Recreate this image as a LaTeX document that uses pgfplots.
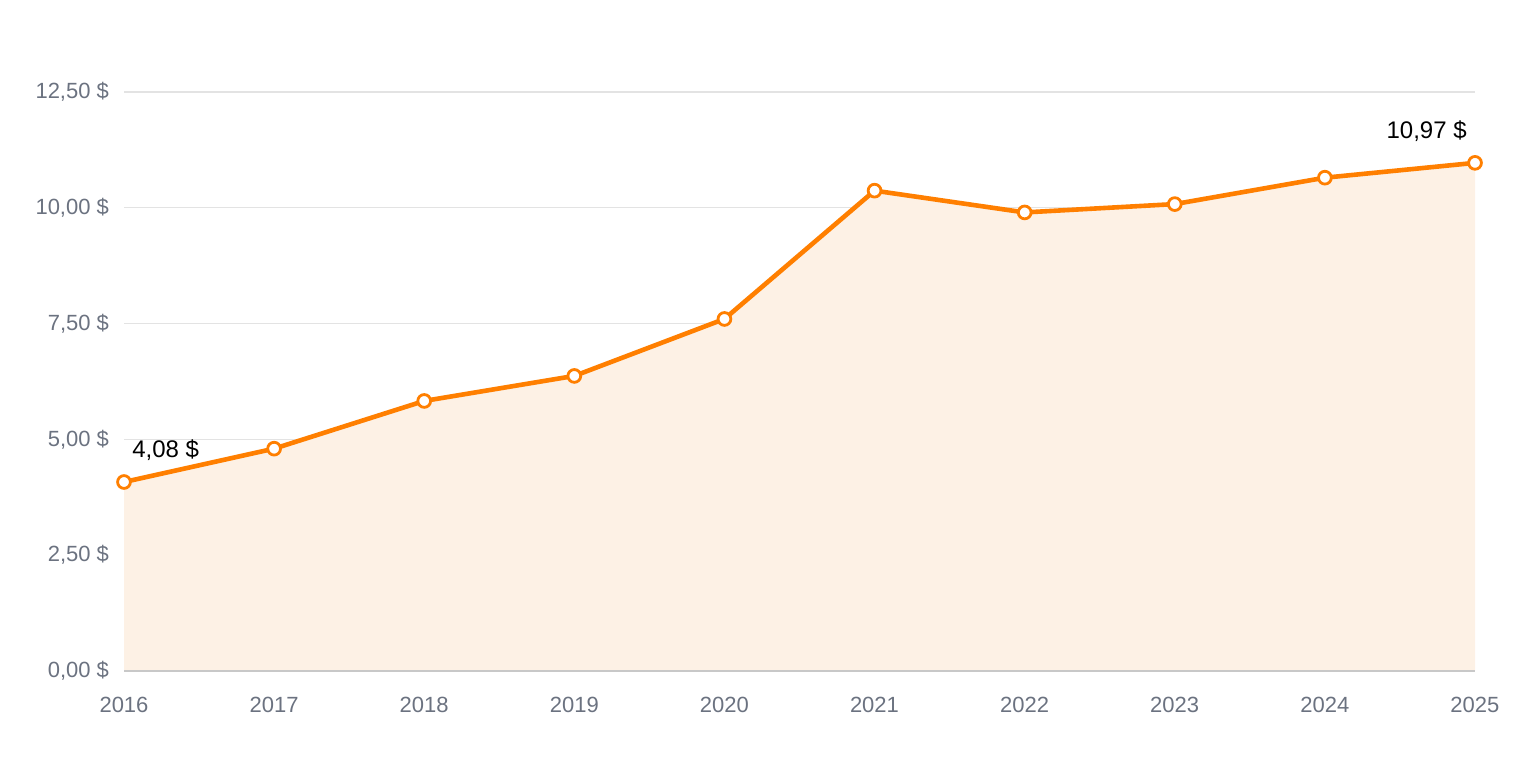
\documentclass[border=0pt]{standalone}
\usepackage{pgfplots}
\pgfplotsset{compat=1.18}
\usepackage{fontspec}
\setmainfont{Liberation Sans}
\definecolor{lineor}{HTML}{FF7F00}
\definecolor{fillor}{HTML}{FDF1E5}
\definecolor{gridc}{HTML}{E3E3E3}
\definecolor{basec}{HTML}{C8C8C8}
\definecolor{tickc}{HTML}{6B7280}
\begin{document}
\begin{tikzpicture}
\path[use as bounding box] (0,0) rectangle (760pt,380pt);
\begin{axis}[
  at={(62pt,44.5pt)}, anchor=south west,
  scale only axis, width=675.5pt, height=289.5pt,
  xmin=2016, xmax=2025, ymin=0, ymax=12.5,
  clip=false,
  axis line style={draw=none},
  major tick length=0pt,
  xtick={2016,...,2025},
  xticklabels={2016,2017,2018,2019,2020,2021,2022,2023,2024,2025},
  ytick={0,2.5,5,7.5,10,12.5},
  yticklabels={{0,00 \$},{2,50 \$},{5,00 \$},{7,50 \$},{10,00 \$},{12,50 \$}},
  ymajorgrids, grid style={gridc, line width=0.6pt},
  tick label style={font=\fontsize{11}{13}\selectfont, text=tickc},
  yticklabel style={xshift=-4pt},
  xticklabel style={yshift=-9.5pt},
]
\addplot[draw=none, fill=fillor] coordinates {
(2016,4.08) (2017,4.80) (2018,5.83) (2019,6.37) (2020,7.60) (2021,10.37) (2022,9.90) (2023,10.08) (2024,10.65) (2025,10.97)
} \closedcycle;
\draw[basec, line width=1.2pt] (axis cs:2016,0) -- (axis cs:2025,0);
\addplot[lineor, line width=2.3pt, mark=*, mark size=3.2pt, mark options={fill=white, draw=lineor, line width=1.4pt}] coordinates {
(2016,4.08) (2017,4.80) (2018,5.83) (2019,6.37) (2020,7.60) (2021,10.37) (2022,9.90) (2023,10.08) (2024,10.65) (2025,10.97)
};
\node[anchor=base west, font=\fontsize{12}{14}\selectfont, inner sep=0pt] at (axis cs:2016.053,4.6) {4,08 \$};
\node[anchor=base east, font=\fontsize{12}{14}\selectfont, inner sep=0pt] at (axis cs:2024.947,11.5) {10,97 \$};
\end{axis}
\end{tikzpicture}
\end{document}
